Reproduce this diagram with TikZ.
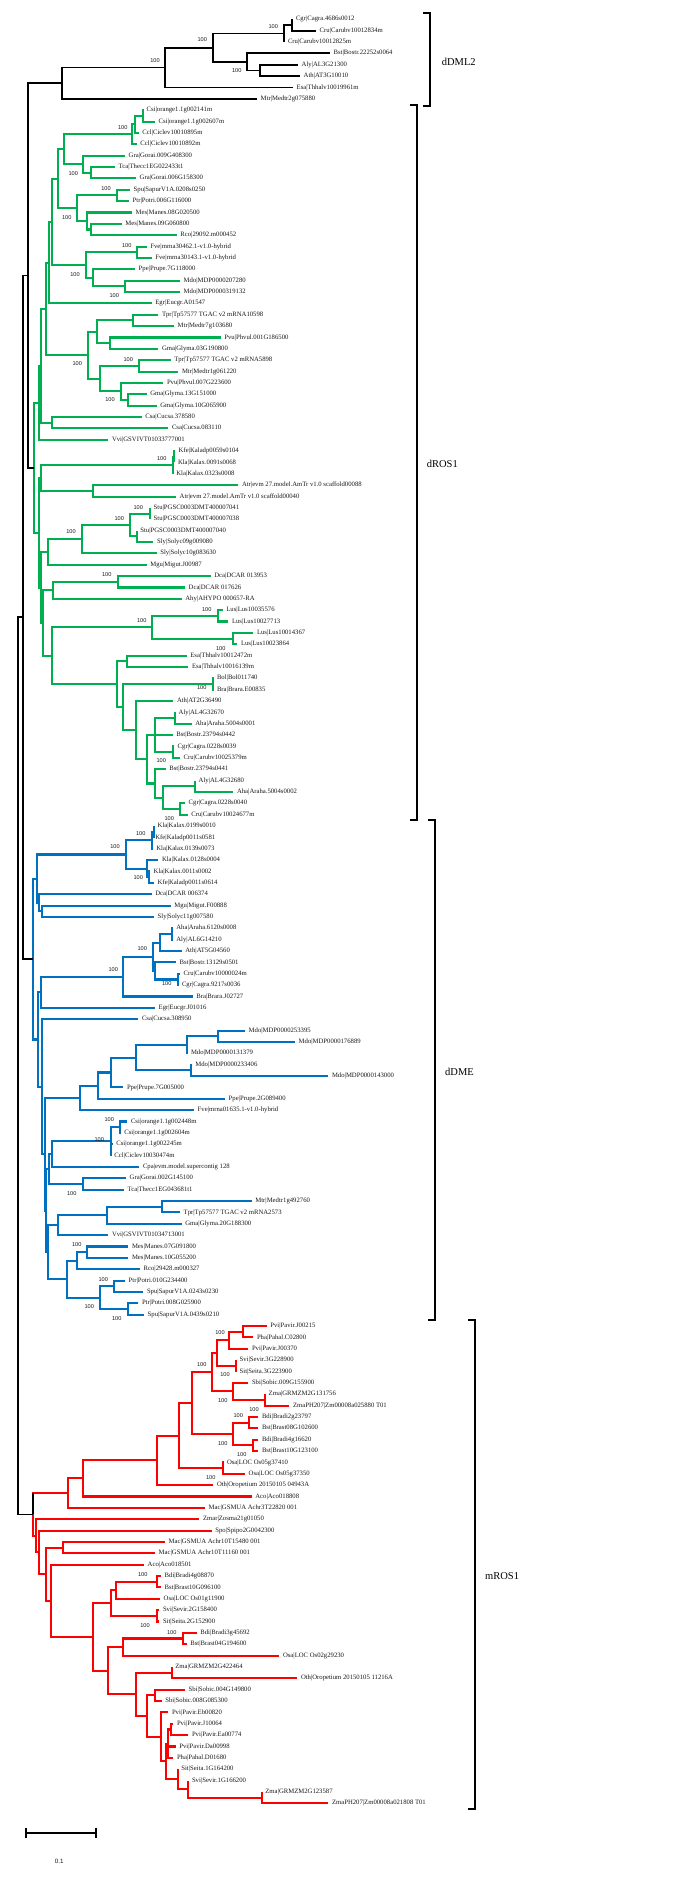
\documentclass[tikz,border=0pt]{standalone}
\usepackage{fontspec}
\setmainfont{Liberation Serif}
\newfontfamily\sansf{Liberation Sans}
\usetikzlibrary{calc}
\definecolor{tgreen}{RGB}{0,176,80}
\definecolor{tblue}{RGB}{0,112,192}
\definecolor{tred}{RGB}{255,0,0}
\newcommand\lf[4]{\coordinate (#1) at (#3,{19.3+11.363*#2});\node[lab] (#1t) at (#1) {#4};}
\newcommand\nd[5]{\path let \p1=($(#2)!.5!(#3)$) in coordinate (#1) at (#4pt,\y1);\draw[#5] (#1) |- (#2);\draw[#5] (#1) |- (#3);}
\begin{document}
\begin{tikzpicture}[x=1pt,y=-1pt,
  lab/.style={anchor=west,xshift=3.5pt,inner sep=0pt,font=\fontsize{6.7}{7.5}\selectfont,text=black!90},
  bs/.style={inner sep=0pt,font=\sansf\fontsize{5.6}{6.5}\selectfont,text=black!90},
  kb/.style={line width=1.8pt,black},
  kg/.style={line width=2.1pt,tgreen},
  kbl/.style={line width=2.1pt,tblue},
  kr/.style={line width=2.1pt,tred},
  brk/.style={line width=2.3pt,black},
  clade/.style={anchor=west,inner sep=0pt,font=\fontsize{10.5}{12}\selectfont}]
\useasboundingbox (0,0) rectangle (674,1879);
% ---------- leaves ----------
\lf{L0}{0}{292.3}{Cgr|Cagra.4686s0012}
\lf{L1}{1}{316}{Cru|Carubv10012834m}
\lf{L2}{2}{284.3}{Cru|Carubv10012825m}
\lf{L3}{3}{330}{Bst|Bostr.22252s0064}
\lf{L4}{4}{298}{Aly|AL3G21300}
\lf{L5}{5}{300}{Ath|AT3G10010}
\lf{L6}{6}{293}{Esa|Thhalv10019961m}
\lf{L7}{7}{257}{Mtr|Medtr2g075880}
\lf{L8}{8}{143}{Csi|orange1.1g002141m}
\lf{L9}{9}{155}{Csi|orange1.1g002607m}
\lf{L10}{10}{138.7}{Ccl|Ciclev10010895m}
\lf{L11}{11}{136.7}{Ccl|Ciclev10010892m}
\lf{L12}{12}{125}{Gra|Gorai.009G408300}
\lf{L13}{13}{115}{Tca|Thecc1EG022433t1}
\lf{L14}{14}{136}{Gra|Gorai.006G158300}
\lf{L15}{15}{130}{Spu|SapurV1A.0208s0250}
\lf{L16}{16}{129}{Ptr|Potri.006G116000}
\lf{L17}{17}{132}{Mes|Manes.08G020500}
\lf{L18}{18}{121.7}{Mes|Manes.09G060800}
\lf{L19}{19}{176.7}{Rco|29092.m000452}
\lf{L20}{20}{146.7}{Fve|mrna30462.1-v1.0-hybrid}
\lf{L21}{21}{151.7}{Fve|mrna30143.1-v1.0-hybrid}
\lf{L22}{22}{135}{Ppe|Prupe.7G118000}
\lf{L23}{23}{180}{Mdo|MDP0000207280}
\lf{L24}{24}{180}{Mdo|MDP0000319132}
\lf{L25}{25}{151.7}{Egr|Eucgr.A01547}
\lf{L26}{26}{158.3}{Tpr|Tp57577 TGAC v2 mRNA10598}
\lf{L27}{27}{174}{Mtr|Medtr7g103680}
\lf{L28}{28}{220.7}{Pvu|Phvul.001G186500}
\lf{L29}{29}{158.3}{Gma|Glyma.03G190800}
\lf{L30}{30}{170.7}{Tpr|Tp57577 TGAC v2 mRNA5898}
\lf{L31}{31}{178.3}{Mtr|Medtr1g061220}
\lf{L32}{32}{163.3}{Pvu|Phvul.007G223600}
\lf{L33}{33}{146.7}{Gma|Glyma.13G151000}
\lf{L34}{34}{156.7}{Gma|Glyma.10G065900}
\lf{L35}{35}{141.7}{Csa|Cucsa.378580}
\lf{L36}{36}{168.3}{Csa|Cucsa.083110}
\lf{L37}{37}{108.3}{Vvi|GSVIVT01033777001}
\lf{L38}{38}{175}{Kfe|Kaladp0059s0104}
\lf{L39}{39}{174.3}{Kla|Kalax.0091s0068}
\lf{L40}{40}{172.7}{Kla|Kalax.0323s0008}
\lf{L41}{41}{238.3}{Atr|evm 27.model.AmTr v1.0 scaffold00088}
\lf{L42}{42}{176}{Atr|evm 27.model.AmTr v1.0 scaffold00040}
\lf{L43}{43}{150}{Stu|PGSC0003DMT400007041}
\lf{L44}{44}{150}{Stu|PGSC0003DMT400007038}
\lf{L45}{45}{136.7}{Stu|PGSC0003DMT400007040}
\lf{L46}{46}{153.3}{Sly|Solyc09g009080}
\lf{L47}{47}{156.7}{Sly|Solyc10g083630}
\lf{L48}{48}{146.7}{Mgu|Migut.J00987}
\lf{L49}{49}{210.7}{Dca|DCAR 013953}
\lf{L50}{50}{185}{Dca|DCAR 017626}
\lf{L51}{51}{181.7}{Ahy|AHYPO 000657-RA}
\lf{L52}{52}{222.7}{Lus|Lus10035576}
\lf{L53}{53}{228.3}{Lus|Lus10027713}
\lf{L54}{54}{253.3}{Lus|Lus10014367}
\lf{L55}{55}{237.3}{Lus|Lus10023864}
\lf{L56}{56}{186.7}{Esa|Thhalv10012472m}
\lf{L57}{57}{188.3}{Esa|Thhalv10016139m}
\lf{L58}{58}{213.3}{Bol|Bol011740}
\lf{L59}{59}{213.3}{Bra|Brara.E00835}
\lf{L60}{60}{173.3}{Ath|AT2G36490}
\lf{L61}{61}{175}{Aly|AL4G32670}
\lf{L62}{62}{191.7}{Aha|Araha.5004s0001}
\lf{L63}{63}{172.7}{Bst|Bostr.23794s0442}
\lf{L64}{64}{174}{Cgr|Cagra.0228s0039}
\lf{L65}{65}{180}{Cru|Carubv10025379m}
\lf{L66}{66}{165.7}{Bst|Bostr.23794s0441}
\lf{L67}{67}{195}{Aly|AL4G32680}
\lf{L68}{68}{233.3}{Aha|Araha.5004s0002}
\lf{L69}{69}{185}{Cgr|Cagra.0228s0040}
\lf{L70}{70}{187.7}{Cru|Carubv10024677m}
\lf{L71}{71}{154}{Kla|Kalax.0199s0010}
\lf{L72}{72}{151.7}{Kfe|Kaladp0011s0581}
\lf{L73}{73}{152.7}{Kla|Kalax.0139s0073}
\lf{L74}{74}{158.3}{Kla|Kalax.0128s0004}
\lf{L75}{75}{150}{Kla|Kalax.0011s0002}
\lf{L76}{76}{154}{Kfe|Kaladp0011s0614}
\lf{L77}{77}{151.7}{Dca|DCAR 006374}
\lf{L78}{78}{170.7}{Mgu|Migut.F00888}
\lf{L79}{79}{154}{Sly|Solyc11g007580}
\lf{L80}{80}{172.7}{Aha|Araha.6120s0008}
\lf{L81}{81}{172.7}{Aly|AL6G14210}
\lf{L82}{82}{181.7}{Ath|AT5G04560}
\lf{L83}{83}{176}{Bst|Bostr.13129s0501}
\lf{L84}{84}{180}{Cru|Carubv10000024m}
\lf{L85}{85}{178.3}{Cgr|Cagra.9217s0036}
\lf{L86}{86}{192.7}{Bra|Brara.J02727}
\lf{L87}{87}{155}{Egr|Eucgr.J01016}
\lf{L88}{88}{138.3}{Csa|Cucsa.308950}
\lf{L89}{89}{245}{Mdo|MDP0000253395}
\lf{L90}{90}{295}{Mdo|MDP0000176889}
\lf{L91}{91}{187.3}{Mdo|MDP0000131379}
\lf{L92}{92}{191.7}{Mdo|MDP0000233406}
\lf{L93}{93}{328.3}{Mdo|MDP0000143000}
\lf{L94}{94}{123.3}{Ppe|Prupe.7G005000}
\lf{L95}{95}{225}{Ppe|Prupe.2G089400}
\lf{L96}{96}{194}{Fve|mrna01635.1-v1.0-hybrid}
\lf{L97}{97}{127.3}{Csi|orange1.1g002448m}
\lf{L98}{98}{120.7}{Csi|orange1.1g002604m}
\lf{L99}{99}{112.7}{Csi|orange1.1g002245m}
\lf{L100}{100}{110.7}{Ccl|Ciclev10030474m}
\lf{L101}{101}{139.3}{Cpa|evm.model.supercontig 128}
\lf{L102}{102}{126}{Gra|Gorai.002G145100}
\lf{L103}{103}{124}{Tca|Thecc1EG043681t1}
\lf{L104}{104}{251.7}{Mtr|Medtr1g492760}
\lf{L105}{105}{180}{Tpr|Tp57577 TGAC v2 mRNA2573}
\lf{L106}{106}{181.7}{Gma|Glyma.20G188300}
\lf{L107}{107}{108.3}{Vvi|GSVIVT01034713001}
\lf{L108}{108}{128.3}{Mes|Manes.07G091800}
\lf{L109}{109}{128.3}{Mes|Manes.10G055200}
\lf{L110}{110}{140}{Rco|29428.m000327}
\lf{L111}{111}{125}{Ptr|Potri.010G234400}
\lf{L112}{112}{143.3}{Spu|SapurV1A.0243s0230}
\lf{L113}{113}{138.3}{Ptr|Potri.008G025900}
\lf{L114}{114}{144}{Spu|SapurV1A.0439s0210}
\lf{L115}{115}{266.7}{Pvi|Pavir.J00215}
\lf{L116}{116}{253.3}{Pha|Pahal.C02800}
\lf{L117}{117}{248.3}{Pvi|Pavir.J00370}
\lf{L118}{118}{236}{Svi|Sevir.3G228900}
\lf{L119}{119}{236}{Sit|Seita.3G223900}
\lf{L120}{120}{248.3}{Sbi|Sobic.009G155900}
\lf{L121}{121}{265}{Zma|GRMZM2G131756}
\lf{L122}{122}{289.3}{ZmaPH207|Zm00008a025880 T01}
\lf{L123}{123}{258.3}{Bdi|Bradi2g23797}
\lf{L124}{124}{258.3}{Bst|Brast08G102600}
\lf{L125}{125}{258.3}{Bdi|Bradi4g16620}
\lf{L126}{126}{258.3}{Bst|Brast10G123100}
\lf{L127}{127}{223.3}{Osa|LOC Os05g37410}
\lf{L128}{128}{245}{Osa|LOC Os05g37350}
\lf{L129}{129}{213.3}{Oth|Oropetium 20150105 04943A}
\lf{L130}{130}{251.7}{Aco|Aco018808}
\lf{L131}{131}{205}{Mac|GSMUA Achr3T22820 001}
\lf{L132}{132}{199.3}{Zmar|Zosma21g01050}
\lf{L133}{133}{211.7}{Spo|Spipo2G0042300}
\lf{L134}{134}{165}{Mac|GSMUA Achr10T15480 001}
\lf{L135}{135}{155}{Mac|GSMUA Achr10T11160 001}
\lf{L136}{136}{144}{Aco|Aco018501}
\lf{L137}{137}{161}{Bdi|Bradi4g08870}
\lf{L138}{138}{161}{Bst|Brast10G096100}
\lf{L139}{139}{160}{Osa|LOC Os01g11900}
\lf{L140}{140}{159.3}{Svi|Sevir.2G158400}
\lf{L141}{141}{159.3}{Sit|Seita.2G152900}
\lf{L142}{142}{196.7}{Bdi|Bradi3g45692}
\lf{L143}{143}{186.7}{Bst|Brast04G194600}
\lf{L144}{144}{279.3}{Osa|LOC Os02g29230}
\lf{L145}{145}{171.7}{Zma|GRMZM2G422464}
\lf{L146}{146}{297.3}{Oth|Oropetium 20150105 11216A}
\lf{L147}{147}{185}{Sbi|Sobic.004G149800}
\lf{L148}{148}{161.7}{Sbi|Sobic.008G085300}
\lf{L149}{149}{168.3}{Pvi|Pavir.Eb00820}
\lf{L150}{150}{173.3}{Pvi|Pavir.J10064}
\lf{L151}{151}{188.3}{Pvi|Pavir.Ea00774}
\lf{L152}{152}{175.7}{Pvi|Pavir.Da00998}
\lf{L153}{153}{173.3}{Pha|Pahal.D01680}
\lf{L154}{154}{177.7}{Sit|Seita.1G164200}
\lf{L155}{155}{188.3}{Svi|Sevir.1G166200}
\lf{L156}{156}{261.7}{Zma|GRMZM2G123587}
\lf{L157}{157}{328.3}{ZmaPH207|Zm00008a021808 T01}
% ---------- dDML2 ----------
\nd{a1}{L0}{L1}{292.3}{kb}
\nd{a2}{a1}{L2}{284.3}{kb}
\nd{a3}{L4}{L5}{260}{kb}
\nd{a4}{L3}{a3}{247.3}{kb}
\nd{a5}{a2}{a4}{213.3}{kb}
\nd{a6}{a5}{L6}{165}{kb}
\nd{a7}{a6}{L7}{62.3}{kb}
% ---------- dROS1 ----------
\nd{b1}{L8}{L9}{142.7}{kg}
\nd{b2}{b1}{L10}{135.3}{kg}
\nd{b3}{b2}{L11}{132.3}{kg}
\nd{b5}{L13}{L14}{90.7}{kg}
\nd{b6}{L12}{b5}{83.3}{kg}
\nd{b4}{b3}{b6}{64.3}{kg}
\nd{b9}{L15}{L16}{117.3}{kg}
\nd{b10}{L18}{L19}{90.7}{kg}
\nd{b11}{L17}{b10}{87.3}{kg}
\nd{b8}{b9}{b11}{77.3}{kg}
\nd{b7}{b4}{b8}{58}{kg}
\nd{b13}{L20}{L21}{136.7}{kg}
\nd{b14}{L23}{L24}{125}{kg}
\nd{b15}{L22}{b14}{93.3}{kg}
\nd{b16}{b13}{b15}{86}{kg}
\nd{b17}{b7}{b16}{51.7}{kg}
\nd{b18}{b17}{L25}{49.3}{kg}
\nd{c1}{L26}{L27}{133.3}{kg}
\nd{c2}{L28}{L29}{110}{kg}
\nd{c3}{c1}{c2}{97.3}{kg}
\nd{c4}{L30}{L31}{139}{kg}
\nd{c5}{L33}{L34}{128.3}{kg}
\nd{c6}{L32}{c5}{120.7}{kg}
\nd{c7}{c4}{c6}{100}{kg}
\nd{c8}{c3}{c7}{88.3}{kg}
\nd{b19}{b18}{c8}{45.7}{kg}
\nd{c9}{L35}{L36}{51.7}{kg}
\nd{c10}{b19}{c9}{41}{kg}
\nd{c11}{c10}{L37}{39}{kg}
\nd{d1}{L38}{L39}{174.3}{kg}
\nd{d2}{d1}{L40}{172.7}{kg}
\nd{d3}{L41}{L42}{93.3}{kg}
\nd{d4}{d2}{d3}{41}{kg}
\nd{e1}{L43}{L44}{150}{kg}
\nd{e2}{L45}{L46}{136.7}{kg}
\nd{e3}{e1}{e2}{130}{kg}
\nd{e4}{e3}{L47}{81.7}{kg}
\nd{e5}{e4}{L48}{48.3}{kg}
\nd{f1}{L49}{L50}{117.7}{kg}
\nd{f2}{f1}{L51}{53.3}{kg}
\nd{h1}{L52}{L53}{218.3}{kg}
\nd{h2}{L54}{L55}{233.3}{kg}
\nd{h3}{h1}{h2}{152.3}{kg}
\nd{h4}{L56}{L57}{126.7}{kg}
\nd{h5}{L58}{L59}{212.7}{kg}
\nd{h6}{L61}{L62}{175}{kg}
\nd{h8}{L64}{L65}{172.7}{kg}
\nd{h7}{h6}{h8}{155}{kg}
\draw[kg] (h7) |- (L63);
\nd{i1}{L67}{L68}{195}{kg}
\nd{i2}{L69}{L70}{180}{kg}
\nd{i3}{i1}{i2}{163.3}{kg}
\nd{i4}{L66}{i3}{155}{kg}
\nd{h9}{h7}{i4}{146.7}{kg}
\nd{h10}{L60}{h9}{136}{kg}
\nd{h11}{h5}{h10}{123.3}{kg}
\nd{h12}{h4}{h11}{116.7}{kg}
\nd{h13}{h3}{h12}{51.7}{kg}
\nd{h14}{f2}{h13}{43.3}{kg}
\nd{g1}{e5}{h14}{41}{kg}
\nd{X}{d4}{g1}{39}{kg}
\nd{R}{c11}{X}{34.3}{kg}
% ---------- dDME ----------
\nd{j1}{L71}{L72}{154}{kbl}
\nd{j2}{j1}{L73}{151.7}{kbl}
\nd{j3}{L75}{L76}{149.3}{kbl}
\nd{j4}{L74}{j3}{146.7}{kbl}
\nd{j5}{j2}{j4}{125.7}{kbl}
\nd{k1}{L78}{L79}{41.7}{kbl}
\nd{k2}{L77}{k1}{39.3}{kbl}
\nd{k3}{j5}{k2}{36.7}{kbl}
\nd{l1}{L80}{L81}{171.7}{kbl}
\nd{l2}{l1}{L82}{160}{kbl}
\nd{l3}{L84}{L85}{177.7}{kbl}
\nd{l4}{L83}{l3}{155}{kbl}
\nd{l5}{l2}{l4}{153.3}{kbl}
\nd{l6}{l5}{L86}{123.3}{kbl}
\nd{l7}{l6}{L87}{40.7}{kbl}
\nd{n1}{L89}{L90}{218.3}{kbl}
\nd{n3}{n1}{L91}{186.7}{kbl}
\nd{n2}{L92}{L93}{190.7}{kbl}
\nd{n5}{n3}{n2}{136}{kbl}
\nd{n6}{n5}{L94}{110.7}{kbl}
\nd{n7}{n6}{L95}{97.7}{kbl}
\nd{n8}{n7}{L96}{80}{kbl}
\nd{o1}{L97}{L98}{120}{kbl}
\nd{o2}{o1}{L100}{110.7}{kbl}
\draw[kbl] (o2) |- (L99);
\nd{o4}{o2}{L101}{51.7}{kbl}
\nd{o5}{L102}{L103}{82.7}{kbl}
\nd{o6}{o4}{o5}{49.3}{kbl}
\nd{p1}{L104}{L105}{161.7}{kbl}
\nd{p2}{p1}{L106}{106.7}{kbl}
\nd{p3}{p2}{L107}{58.3}{kbl}
\nd{q1}{L108}{L109}{87.3}{kbl}
\nd{q2}{q1}{L110}{76.7}{kbl}
\nd{q3}{L111}{L112}{114}{kbl}
\nd{q4}{L113}{L114}{127.7}{kbl}
\nd{q5}{q3}{q4}{100}{kbl}
\nd{q6}{q2}{q5}{66.7}{kbl}
\nd{T}{p3}{q6}{48.3}{kbl}
\nd{V}{o6}{T}{46.3}{kbl}
\nd{W}{n8}{V}{45}{kbl}
\nd{Z}{L88}{W}{41.7}{kbl}
\nd{Y}{l7}{Z}{38.3}{kbl}
\nd{D}{k3}{Y}{33.3}{kbl}
% ---------- mROS1 ----------
\nd{r1}{L115}{L116}{242.7}{kr}
\nd{r2}{r1}{L117}{229.3}{kr}
\nd{r3}{L118}{L119}{236}{kr}
\nd{r4}{r2}{r3}{216.7}{kr}
\nd{r5}{L121}{L122}{265}{kr}
\nd{r6}{L120}{r5}{233.3}{kr}
\nd{r7}{r4}{r6}{211.7}{kr}
\nd{s1}{L123}{L124}{249.3}{kr}
\nd{s2}{L125}{L126}{253.3}{kr}
\nd{s3}{s1}{s2}{233.3}{kr}
\nd{r8}{r7}{s3}{191.7}{kr}
\nd{s4}{L127}{L128}{222.7}{kr}
\nd{r9}{r8}{s4}{179.3}{kr}
\nd{r10}{r9}{L129}{156.7}{kr}
\nd{r11}{r10}{L130}{82.7}{kr}
\nd{r12}{r11}{L131}{68.3}{kr}
\nd{t1}{L134}{L135}{63.3}{kr}
\nd{u1}{L137}{L138}{156.7}{kr}
\nd{u2}{u1}{L139}{116}{kr}
\nd{u3}{L140}{L141}{156.7}{kr}
\nd{u4}{u2}{u3}{110.7}{kr}
\nd{u5}{L142}{L143}{182.7}{kr}
\nd{u6}{u5}{L144}{123.3}{kr}
\nd{v1}{L145}{L146}{171.7}{kr}
\nd{v2}{L147}{L148}{155}{kr}
\nd{w1}{L150}{L151}{171}{kr}
\nd{w5}{w1}{L153}{167.7}{kr}
\draw[kr] (w5) |- (L152);
\nd{w2}{L156}{L157}{261.7}{kr}
\nd{w3}{L155}{w2}{188.3}{kr}
\nd{w4}{L154}{w3}{177.7}{kr}
\nd{w6}{w5}{w4}{166}{kr}
\nd{w7}{L149}{w6}{161}{kr}
\nd{w8}{v2}{w7}{146.7}{kr}
\nd{w9}{v1}{w8}{136}{kr}
\nd{w10}{u6}{w9}{108.3}{kr}
\nd{w11}{u4}{w10}{92.7}{kr}
\nd{w12}{L136}{w11}{50.7}{kr}
\nd{w13}{t1}{w12}{45.7}{kr}
\nd{w14}{L133}{w13}{39}{kr}
\nd{w15}{L132}{w14}{35.7}{kr}
\nd{M}{r12}{w15}{33.3}{kr}
% ---------- root ----------
\nd{C}{a7}{R}{27.7}{kb}
\nd{B}{C}{D}{22.7}{kb}
\nd{A}{B}{M}{18.3}{kb}
\draw[kb] (M) -- (M |- r12);
% ---------- bootstrap values ----------
\foreach \bx/\by [count=\i] in {273.3/26.7,202.3/40,155/60.7,236.7/71,
  122.7/127.7,73.3/173.3,106/189,66.7/217.3,126.7/245.7,75/274.3,114.3/295.7,
  77.3/363.3,128.3/359.3,110/400,161.7/458.3,138.3/507.3,119.3/518.3,71/531.7,106.7/574.3,
  206.7/609.3,141.7/620.7,220.7/648.3,201.7/687.3,161.3/761,169.3/818.3,
  140.7/833.3,115/846.7,138.3/877.7,142.3/949,113.3/969.3,166.7/983.3,
  109.3/1120,99.3/1139.3,71.7/1193.3,76.7/1245,103.3/1279.3,89.3/1306.7,116.7/1318.3,
  220/1332.3,201.7/1365,225/1374.3,222.7/1400.7,254/1409.3,238.3/1416,222.7/1444,241.7/1454.3,210.7/1477.3,
  142.7/1575,145/1626,171.7/1632.3}
  \node[bs] (bs\i) at (\bx,\by) {100};
% ---------- clade brackets ----------
\coordinate (k1a) at (423.3,13.3); \coordinate (k1b) at (430,13.3);
\coordinate (k1c) at (430,106); \coordinate (k1d) at (423.3,106);
\draw[brk] (k1a) -- (k1b) -- (k1c) -- (k1d);
\node[clade] (cl1) at (441.7,61.7) {dDML2};
\coordinate (k2a) at (410,105.3); \coordinate (k2b) at (416.7,105.3);
\coordinate (k2c) at (416.7,820); \coordinate (k2d) at (410,820);
\draw[brk] (k2a) -- (k2b) -- (k2c) -- (k2d);
\node[clade] (cl2) at (426.7,464) {dROS1};
\coordinate (k3a) at (427.7,820); \coordinate (k3b) at (435,820);
\coordinate (k3c) at (435,1320); \coordinate (k3d) at (427.7,1320);
\draw[brk] (k3a) -- (k3b) -- (k3c) -- (k3d);
\node[clade] (cl3) at (445,1071.7) {dDME};
\coordinate (k4a) at (468.3,1320); \coordinate (k4b) at (475,1320);
\coordinate (k4c) at (475,1809.3); \coordinate (k4d) at (468.3,1809.3);
\draw[brk] (k4a) -- (k4b) -- (k4c) -- (k4d);
\node[clade] (cl4) at (485,1576) {mROS1};
% ---------- scale bar ----------
\coordinate (sb1) at (26,1832.7); \coordinate (sb2) at (96,1832.7);
\draw[line width=1.7pt] (sb1) -- (sb2);
\draw[line width=1.5pt] ($(sb1)+(0,-5)$) -- ($(sb1)+(0,5)$);
\draw[line width=1.5pt] ($(sb2)+(0,-5)$) -- ($(sb2)+(0,5)$);
\node[bs,font=\sansf\fontsize{6.2}{7}\selectfont] (sbl) at (59.3,1861.7) {0.1};
\end{tikzpicture}
\end{document}
